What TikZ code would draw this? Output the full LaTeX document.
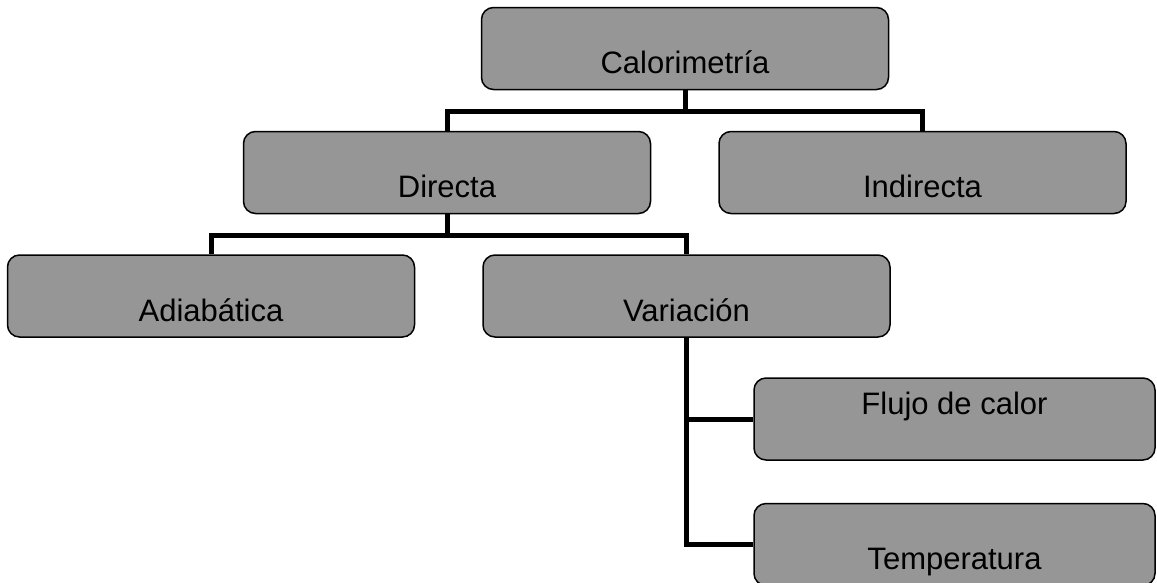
\documentclass[tikz,border=0pt]{standalone}
\usepackage{fontspec}
\setmainfont{Liberation Sans}
\usetikzlibrary{positioning}
\definecolor{boxgray}{RGB}{150,150,150}
\tikzset{
chart/.style={
    x=1pt,
    y=1pt,
    node distance=67pt,
    font=\fontsize{31}{37}\selectfont
},
box/.style={
    rectangle,
    draw,
    line width=1.5pt,
    rounded corners=12pt,
    fill=boxgray,
    minimum width=407pt,
    inner xsep=0pt,
    inner ysep=0pt,
    text height=66pt,
    text depth=16pt
},
narrow/.style={
    minimum width=401pt
},
hightext/.style={
    text height=36pt,
    text depth=46pt
},
branch/.style={
    line width=5pt,
    to path={-- ++(0,-21pt) -| (\tikztotarget)}
},
side/.style={
    line width=5pt,
    to path={|- (\tikztotarget)}
}}

\begin{document}
\begin{tikzpicture}[chart]
\useasboundingbox (0,0) rectangle (1157,-582);

\node[box]    (calor)    at (685,-48.5)    {Calorimetría};
\node[box]    (directa)  at (447,-172.5)   {Directa};
\node[box]    (indirecta)  [right = of directa]    {Indirecta};
\node[box]    (adiab)    at (211,-296)     {Adiabática};
\node[box]    (variacion)  [right = of adiab]    {Variación};
\node[box,narrow,hightext]    (flujo)    at (954.5,-419)    {Flujo de calor};
\node[box,narrow]    (temp)    [below = 42pt of flujo]    {Temperatura};

\path    (calor.south)    edge[branch]    (directa.north);
\path    (calor.south)    edge[branch]    (indirecta.north);

\path    (directa.south)    edge[branch]    (adiab.north);
\path    (directa.south)    edge[branch]    (variacion.north);

\path    (variacion.south)    edge[side]    (flujo.west);
\path    (variacion.south)    edge[side]    (temp.west);
\end{tikzpicture}
\end{document}
